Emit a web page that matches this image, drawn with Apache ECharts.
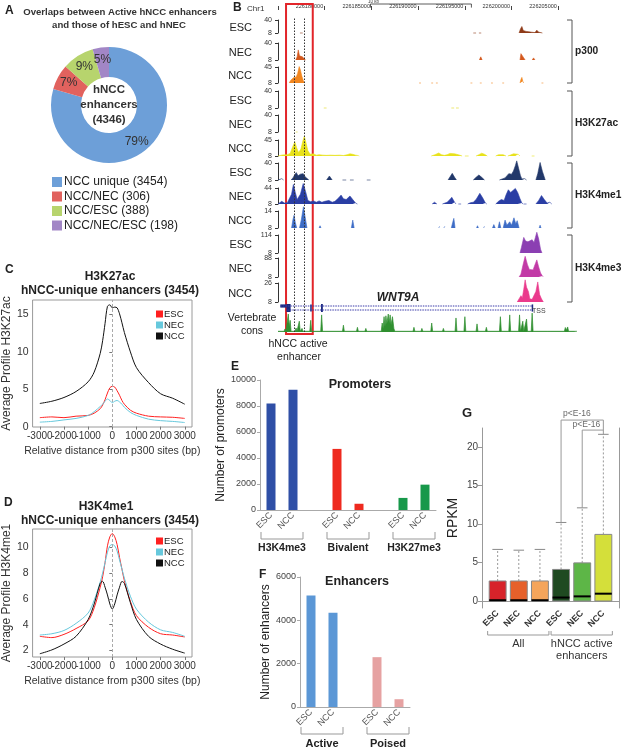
<!DOCTYPE html>
<html>
<head>
<meta charset="utf-8">
<script src="https://cdn.jsdelivr.net/npm/echarts@6/dist/echarts.min.js"></script>
<style>
html,body{margin:0;padding:0;background:#fff;width:624px;height:751px;overflow:hidden;}
.pane{position:absolute;left:0;top:0;width:624px;height:751px;}
</style>
</head>
<body>
<div id="pA" class="pane"></div>
<div id="pB" class="pane"></div>
<div id="pC" class="pane"></div>
<div id="pD" class="pane"></div>
<div id="pE" class="pane"></div>
<div id="pF" class="pane"></div>
<div id="pG" class="pane"></div>
<script>
// ---------------- DATA ----------------
// Panel A
const overlapNames = ['NCC unique', 'NCC/NEC', 'NCC/ESC', 'NCC/NEC/ESC'];
const overlapCounts = [3454, 306, 388, 198];

// Panel B (positions in kb from chr1:226,175,000)
const trackNames = ['ESC','NEC','NCC','ESC','NEC','NCC','ESC','NEC','NCC','ESC','NEC','NCC'];
const trackGroups = [['p300',0,2],['H3K27ac',3,5],['H3K4me1',6,8],['H3K4me3',9,11]];
const trackMax = [40,40,45,40,40,45,40,44,14,114,88,26];
const p300ESC = [
  [[2.35,8],[2.5,10],[2.65,8]],
  [[20.9,8],[21.05,12],[21.2,8]],
  [[21.5,8],[21.62,11],[21.75,8]],
  [[25.8,8],[25.95,18],[26.1,24],[26.25,14],[26.4,17],[26.55,12],[26.7,16],[26.85,11],[27.0,15],[27.15,10],[27.3,14],[27.5,9],[27.7,15],[27.9,10],[28.1,13],[28.3,8]]
];
const p300NEC = [
  [[1.9,8],[2.05,14],[2.17,27],[2.3,16],[2.45,13],[2.6,14],[2.8,12],[2.95,8]],
  [[21.55,8],[21.7,14],[21.85,8]],
  [[25.9,8],[26.0,20],[26.15,22],[26.3,12],[26.45,8]],
  [[27.2,8],[27.35,12],[27.5,8]]
];
const p300NCC = [
  [[1.2,8],[1.35,14],[1.5,12],[1.65,20],[1.8,17],[1.95,22],[2.1,30],[2.27,46],[2.4,38],[2.55,24],[2.7,14],[2.85,8]],
  [[15.1,8],[15.2,10],[15.3,8]],
  [[16.4,8],[16.5,11],[16.6,8]],
  [[16.9,8],[17.0,10],[17.1,8]],
  [[20.6,8],[20.7,10],[20.8,8]],
  [[21.6,8],[21.7,11],[21.8,8]],
  [[22.8,8],[22.9,10],[23.0,8]],
  [[24.0,8],[24.1,11],[24.2,8]],
  [[25.9,8],[26.0,16],[26.1,21],[26.2,12],[26.3,8]],
  [[28.2,8],[28.3,10],[28.4,8]]
];
const k27acESC = [
  [[4.9,8],[5.05,9.5],[5.2,8]],
  [[18.55,8],[18.7,9.5],[18.85,8]],
  [[19.05,8],[19.2,9.5],[19.35,8]]
];
const k27acNEC = [
  [[1.9,8],[2.0,9.5],[2.1,8]]
];
const k27acNCC = [
  [[0.0,8],[0.1,10],[0.5,10.5],[1.0,11],[1.3,14],[1.55,28],[1.8,41],[2.0,27],[2.2,16],[2.45,24],[2.65,42],[2.82,54],[3.0,38],[3.2,20],[3.45,12],[3.8,13],[4.1,10],[4.4,11],[4.8,10],[5.2,9.5],[5.6,10],[6.1,9.5],[6.6,10],[7.0,9],[7.4,11],[7.7,13],[8.0,12],[8.3,10],[8.6,9],[8.7,8]],
  [[16.4,8],[16.8,11],[17.2,15],[17.5,11],[17.8,9.5],[18.1,11],[18.4,14],[18.6,15.5],[18.9,13],[19.3,11],[19.7,8]],
  [[20.0,8],[20.2,9.5],[20.4,8]],
  [[21.2,8],[21.5,11],[21.8,14.5],[22.1,12],[22.4,8]],
  [[23.3,8],[23.6,11],[23.8,14.5],[24.1,11],[24.4,8]],
  [[24.6,8],[24.9,10.5],[25.2,13],[25.4,15],[25.7,12],[25.9,8]],
  [[27.15,8],[27.3,10],[27.45,8]]
];
const k4me1ESC = [
  [[0.0,8],[0.1,11],[0.4,10.5],[0.6,8]],
  [[1.4,8],[1.6,12],[1.8,18],[1.95,22],[2.15,16],[2.4,19],[2.55,16],[2.7,20],[2.9,14],[3.1,11],[3.3,8]],
  [[5.2,8],[5.5,15.5],[5.8,8]],
  [[6.9,8],[7.1,10],[7.3,8]],
  [[7.7,8],[7.9,10],[8.1,8]],
  [[9.5,8],[9.7,10],[9.9,8]],
  [[18.2,8],[18.45,15],[18.65,20.5],[18.9,13],[19.1,8]],
  [[20.9,8],[21.2,13],[21.5,17.5],[21.8,13],[22.1,8]],
  [[23.7,8],[24.0,10],[24.3,12],[24.7,20],[25.0,19],[25.2,25],[25.4,35],[25.55,44],[25.75,30],[25.95,16],[26.1,10],[26.4,10.5],[26.6,8]],
  [[27.6,8],[27.8,20],[28.05,41],[28.3,24],[28.6,8]]
];
const k4me1NEC = [
  [[0.0,8],[0.1,12],[0.4,14],[0.7,10],[1.0,11],[1.2,14],[1.45,30],[1.65,52],[1.85,34],[2.05,18],[2.2,16],[2.4,30],[2.7,54],[2.95,36],[3.2,16],[3.5,13],[3.8,15],[4.1,12],[4.4,15],[4.7,12],[5.0,14],[5.45,16],[5.8,12],[6.1,14],[6.5,22],[6.75,28],[7.0,20],[7.3,18],[7.7,26],[8.0,18],[8.3,10],[8.5,8]],
  [[16.5,8],[16.75,12],[17.0,8]],
  [[17.6,8],[17.8,10],[18.1,12],[18.4,18],[18.6,23],[18.9,12],[19.05,8]],
  [[19.3,8],[19.45,10],[19.6,8]],
  [[20.3,8],[20.6,11],[20.9,12],[21.2,18],[21.6,32],[21.9,22],[22.2,10],[22.35,8]],
  [[23.3,8],[23.6,14],[23.9,18],[24.2,16],[24.4,28],[24.65,40],[24.9,34],[25.1,38],[25.4,43],[25.65,34],[25.9,20],[26.1,10],[26.25,8]],
  [[26.3,8],[26.45,10],[26.6,8]],
  [[27.6,8],[27.9,16],[28.2,27],[28.5,18],[28.8,10],[29.1,12],[29.3,8]]
];
const k4me1NCC = [
  [[1.45,8],[1.6,11],[1.72,12.5],[1.85,10],[2.0,8]],
  [[2.3,8],[2.5,11],[2.72,15.5],[2.9,12],[3.1,8]],
  [[4.4,8],[4.5,8.8],[4.6,8]],
  [[7.85,8],[8.0,10.8],[8.15,8]],
  [[17.2,8],[17.3,8.6],[17.4,8]],
  [[17.75,8],[17.85,8.6],[17.95,8]],
  [[18.55,8],[18.7,10],[18.82,11.4],[18.95,8]],
  [[21.25,8],[21.35,8.8],[21.45,8]],
  [[22.0,8],[22.1,8.6],[22.2,8]],
  [[22.95,8],[23.1,9.2],[23.25,8]],
  [[23.55,8],[23.7,10.2],[23.85,8]],
  [[24.1,8],[24.3,10.8],[24.5,9],[24.8,10.2],[25.0,9],[25.25,11.6],[25.45,9.5],[25.6,10.6],[25.8,8]],
  [[27.95,8],[28.05,9],[28.15,8]]
];
const k4me3ESC = [
  [[25.9,8],[26.05,40],[26.3,100],[26.5,78],[26.75,74],[26.95,68],[27.2,86],[27.4,70],[27.55,100],[27.7,130],[27.9,90],[28.1,30],[28.25,8]]
];
const k4me3NEC = [
  [[25.8,8],[26.0,20],[26.2,55],[26.45,95],[26.7,60],[26.9,40],[27.1,46],[27.3,38],[27.5,60],[27.7,80],[27.9,50],[28.1,25],[28.3,12],[28.4,8]]
];
const k4me3NCC = [
  [[25.6,8],[25.8,9],[26.0,14],[26.15,12],[26.3,20],[26.45,29],[26.6,22],[26.8,18],[26.95,11],[27.2,10.5],[27.4,9],[27.6,18],[27.8,27],[28.0,15],[28.2,11],[28.4,8]]
];
const consTrack = [
  [0,0.04],[0.65,0.04],[0.75,0.17],[0.85,0.04],[1.0,0.04],[1.1,1.0],[1.2,0.3],[1.3,0.65],[1.4,0.04],[1.83,0.04],[1.93,0.22],[2.03,0.04],[2.18,0.04],[2.28,0.6],[2.38,0.04],[2.47,0.04],[2.57,0.2],[2.67,0.04],
  [3.4,0.04],[3.5,0.65],[3.6,0.04],[4.57,0.04],[4.67,0.95],[4.77,0.04],[6.9,0.04],[7.0,0.38],[7.1,0.04],[8.4,0.04],[8.5,0.26],[8.6,0.04],[9.3,0.04],[9.4,0.2],[9.5,0.04],
  [11.05,0.04],[11.15,0.5],[11.25,0.2],[11.35,0.85],[11.45,0.3],[11.55,0.9],[11.65,0.45],[11.8,1.0],[11.9,0.5],[12.0,0.95],[12.1,0.4],[12.25,0.85],[12.4,0.2],[12.5,0.04],
  [14.45,0.04],[14.55,0.26],[14.65,0.04],[15.3,0.04],[15.4,0.2],[15.5,0.04],[16.35,0.04],[16.45,0.5],[16.55,0.04],[17.6,0.04],[17.7,0.2],[17.8,0.04],
  [18.95,0.04],[19.05,0.78],[19.15,0.04],[19.9,0.04],[20.0,0.85],[20.1,0.04],[21.2,0.04],[21.3,0.45],[21.4,0.04],[22.2,0.04],[22.3,0.26],[22.4,0.04],
  [23.7,0.04],[23.8,0.85],[23.9,0.04],[24.7,0.04],[24.8,0.95],[24.9,0.04],[25.75,0.04],[25.85,0.95],[25.95,0.04],[26.1,0.04],[26.2,0.6],[26.3,0.04],[26.5,0.04],[26.6,0.72],[26.7,0.04],
  [27.1,0.04],[27.2,1.05],[27.3,0.04],[28.85,0.04],[28.95,0.15],[29.05,0.04],[29.2,0.04],[29.3,0.15],[29.4,0.04],[30.65,0.04],[30.75,0.25],[30.85,0.1],[31.0,0.28],[31.1,0.04],[31.7,0.04],[31.8,0.12],[31.9,0.04],[32,0.04]
];
const geneTranscripts = [[0.25, 27.2, 2], [1.0, 27.2, 1]];
const geneExons = [[0.25,0.9,1.6,2.4],[0.9,1.35,0.5,2.5],[3.45,3.6,0.6,2.4],[4.6,4.8,0.5,2.5],[27.15,27.25,0.6,2.4]];
const enhancerRegion = [0.86, 3.72];
const p300Summits = [1.71, 2.78];
const rulerOriginBp = 226175000;
const scaleBarKb = [9.9, 20.7];

// Panels C & D
const profilePositions = [-3000,-2500,-2000,-1500,-1000,-750,-500,-400,-300,-200,-100,0,100,200,300,400,500,750,1000,1500,2000,2500,3000];
const k27acProfileESC = [1.2,1.3,1.2,1.4,1.5,1.8,2.4,2.9,3.6,4.5,5.2,5.4,5.3,4.8,4.2,3.5,3.0,2.2,1.8,1.4,1.3,1.25,1.1];
const k27acProfileNEC = [0.6,0.7,0.9,1.1,1.5,2.0,2.7,3.0,3.4,3.7,3.5,3.2,3.4,3.5,3.3,3.0,2.6,1.9,1.5,1.0,0.8,0.7,0.55];
const k27acProfileNCC = [3.1,3.4,3.9,4.7,6.0,7.3,9.8,11.5,13.8,16.1,16.3,15.9,16.0,15.9,15.1,13.9,12.6,10.0,7.9,5.9,4.4,3.8,3.0];
const k4me1ProfileESC = [3.1,3.0,3.25,3.7,4.3,5.3,6.9,7.7,8.8,10.1,10.8,11.05,10.8,10.2,9.2,8.3,7.4,5.8,4.7,3.8,3.3,3.2,3.05];
const k4me1ProfileNEC = [3.2,3.3,3.55,4.1,4.9,5.9,7.3,8.0,8.8,9.6,10.1,10.2,10.1,9.7,9.0,8.3,7.6,6.2,5.2,4.2,3.6,3.4,3.1];
const k4me1ProfileNCC = [1.75,2.05,2.5,3.1,4.4,5.6,7.2,7.35,6.9,6.3,5.6,5.2,5.6,6.3,6.9,7.35,7.2,5.7,4.4,3.1,2.5,2.1,1.8];
const profileTicks = [-3000,-2000,-1000,0,1000,2000,3000];

// Panel E
const promoterCats = ['ESC','NCC','','ESC','NCC','','ESC','NCC'];
const promoterCounts = [8200, 9250, null, 4700, 480, null, 930, 1950];
const promoterGroups = [['H3K4me3',0,1],['Bivalent',3,4],['H3K27me3',6,7]];

// Panel F
const enhancerCats = ['ESC','NCC','','ESC','NCC'];
const enhancerCounts = [5150, 4346, null, 2300, 360];
const enhancerGroups = [['Active',0,1],['Poised',3,4]];

// Panel G
const rpkmCats = ['ESC','NEC','NCC','ESC','NEC','NCC'];
const rpkmQ1 = [0,0,0,0,0,0];
const rpkmMedian = [0.1,0.1,0.1,0.45,0.6,0.95];
const rpkmQ3 = [2.6,2.6,2.6,4.1,4.95,8.65];
const rpkmUpper = [6.7,6.6,6.7,10.2,12.1,21.65];
const rpkmGroups = [['All',1,3],['hNCC active\nenhancers',4,6]];
const rpkmBracketY = [23.5, 22.2];
const rpkmPLabel = 'p<E-16';

// ---------------- STYLE ----------------
const FONT = '"Liberation Sans", Arial, Helvetica, sans-serif';
const overlapColors = ['#6d9fd8','#e1625e','#b7d46d','#a286c6'];
const trackColors = ['#8e3a18','#d4581c','#f2861e','#e0d81a','#e0d81a','#e8e21a','#22386a','#2a3ea4','#3d6cc6','#8b3fb2','#c23aa6','#ea3a8c'];
const profileColors = ['#ff2020','#66c8dc','#111111'];
const promoterColors = ['#2f4fa6','#2f4fa6',null,'#ee2a1f','#ee2a1f',null,'#17984a','#17984a'];
const enhancerColors = ['#5b97d6','#5b97d6',null,'#e6a2a2','#e6a2a2'];
const rpkmColors = ['#d7232a','#e6602a','#f5a55b','#1f4a21','#5db647','#d4df3a'];

function mk(id){ return echarts.init(document.getElementById(id), null, {renderer:'canvas', width:624, height:751}); }
function T(x, y, text, o){
  o = o || {};
  const font = (o.italic ? 'italic ' : '') + (o.weight || 'normal') + ' ' + (o.size || 11) + 'px ' + FONT;
  const st = {text:text, fill:o.color || '#222', font:font, align:o.align || 'left', textAlign:o.align || 'left',
              verticalAlign:o.va || 'middle', textVerticalAlign:o.va || 'middle'};
  if (o.lh) st.lineHeight = o.lh;
  return {type:'text', x:x, y:y, silent:true, z:100, style:st};
}
function P(points, color, w){ return {type:'polyline', silent:true, z:90, shape:{points:points}, style:{stroke:color || '#999', lineWidth:w || 1, fill:null}}; }
function joinPeaks(peaks){
  const out = [];
  peaks.forEach((p, i) => { if (i) out.push([p[0][0], null]); p.forEach(pt => out.push(pt)); });
  return out;
}
const plain = v => String(v);

// ---------------- PANEL A ----------------
const chA = mk('pA');
const totalEnh = overlapCounts.reduce((a, b) => a + b, 0);
chA.setOption({
  animation:false,
  graphic:[
    T(5, 11, 'A', {weight:'bold', size:12}),
    T(120, 12, 'Overlaps between Active hNCC enhancers', {weight:'bold', size:9.6, align:'center', color:'#333'}),
    T(119, 25, 'and those of hESC and hNEC', {weight:'bold', size:9.6, align:'center', color:'#333'}),
    T(109, 105, 'hNCC\nenhancers\n(' + totalEnh + ')', {weight:'bold', size:11.5, align:'center', lh:15, color:'#333'})
  ],
  legend:{orient:'vertical', left:52, top:176, itemWidth:10, itemHeight:10, itemGap:2.5, icon:'rect', padding:0,
    textStyle:{fontSize:12, color:'#222', fontFamily:FONT, padding:[0,0,0,-3]},
    formatter:n => n + ' (' + overlapCounts[overlapNames.indexOf(n)] + ')'},
  series:[{type:'pie', center:[109,105], radius:[28,58], startAngle:90, clockwise:true, silent:true,
    label:{show:true, position:'inside', formatter:p => Math.round(p.percent) + '%', fontSize:12, color:'#333', fontFamily:FONT},
    labelLine:{show:false},
    data:overlapNames.map((n, i) => ({name:n, value:overlapCounts[i], itemStyle:{color:overlapColors[i]}}))}]
});

// ---------------- PANEL B ----------------
const chB = mk('pB');
const trackData = [p300ESC,p300NEC,p300NCC,k27acESC,k27acNEC,k27acNCC,k4me1ESC,k4me1NEC,k4me1NCC,k4me3ESC,k4me3NEC,k4me3NCC];
const trackTopY = [20,43,67,91,115,140,163,188,211,235,258,283];
const trackBaseY = [33,60,83,108,132,156,180,204,228,253,277,302];
const TL = 278, TW = 299;
const bGrids = [], bX = [], bY = [], bS = [];
function addGrid(top, height){ bGrids.push({left:TL, width:TW, top:top, height:height}); return bGrids.length - 1; }
function hiddenX(gi){ return {gridIndex:gi, type:'value', min:0, max:32, show:false}; }
trackData.forEach((peaks, i) => {
  const gi = addGrid(trackTopY[i], trackBaseY[i] - trackTopY[i]);
  bX.push(hiddenX(gi));
  bY.push({gridIndex:gi, type:'value', min:8, max:trackMax[i], offset:4,
    axisLine:{show:true, lineStyle:{color:'#333', width:1}},
    axisTick:{show:true, length:3, customValues:[8, trackMax[i]], lineStyle:{color:'#333'}},
    axisLabel:{show:true, customValues:[8, trackMax[i]], fontSize:7, color:'#333', margin:2, fontFamily:FONT},
    splitLine:{show:false}});
  bS.push({type:'line', xAxisIndex:gi, yAxisIndex:gi, data:joinPeaks(peaks), symbol:'none', clip:false, silent:true,
    connectNulls:false, lineStyle:{color:trackColors[i], width:0.6}, areaStyle:{color:trackColors[i], opacity:1, origin:'start'}});
});
// ruler
let gi = addGrid(4, 6);
bX.push({gridIndex:gi, type:'value', min:0, max:32, interval:5, position:'bottom',
  axisLine:{show:false}, axisTick:{show:true, inside:true, length:4, lineStyle:{color:'#444'}},
  axisLabel:{formatter:v => v === 0 ? '' : String(rulerOriginBp + v * 1000), fontSize:5.5, color:'#333', align:'right',
    verticalAlign:'middle', margin:-4, padding:[0,1.5,0,0], fontFamily:FONT}, splitLine:{show:false}});
bY.push({gridIndex:gi, type:'value', min:0, max:1, show:false});
bS.push({type:'line', xAxisIndex:gi, yAxisIndex:gi, symbol:'none', clip:false, silent:true,
  data:[[scaleBarKb[0],0.4],[scaleBarKb[0],1],[scaleBarKb[1],1],[scaleBarKb[1],0.4]], lineStyle:{color:'#333', width:0.8}});
// gene
gi = addGrid(302, 12);
bX.push(hiddenX(gi));
bY.push({gridIndex:gi, type:'value', min:0, max:3, show:false});
geneTranscripts.forEach(tr => {
  bS.push({type:'line', xAxisIndex:gi, yAxisIndex:gi, symbol:'none', silent:true, data:[[tr[0], tr[2]], [tr[1], tr[2]]],
    lineStyle:{color:'#3a3aa8', width:1, type:[1.5,1]}});
});
bS.push({type:'custom', xAxisIndex:gi, yAxisIndex:gi, silent:true, data:geneExons, encode:{x:[0,1], y:[2,3]},
  renderItem:(params, api) => {
    const s = api.coord([api.value(0), api.value(2)]);
    const e = api.coord([api.value(1), api.value(3)]);
    return {type:'rect', shape:{x:s[0], y:e[1], width:Math.max(e[0] - s[0], 1.5), height:s[1] - e[1]}, style:{fill:'#1b2a80'}};
  }});
// conservation
gi = addGrid(314, 18);
bX.push(hiddenX(gi));
bY.push({gridIndex:gi, type:'value', min:0, max:1, show:false});
bS.push({type:'line', xAxisIndex:gi, yAxisIndex:gi, data:consTrack, symbol:'none', clip:false, silent:true,
  lineStyle:{color:'#2f8f2f', width:0.7}, areaStyle:{color:'#2f8f2f', opacity:1, origin:'start'}});
// overlay: enhancer box
gi = addGrid(4, 330);
bX.push(hiddenX(gi));
bY.push({gridIndex:gi, type:'value', min:0, max:1, show:false});
bS.push({type:'line', xAxisIndex:gi, yAxisIndex:gi, data:[[0,-1]], symbol:'none', silent:true, lineStyle:{width:0},
  markArea:{silent:true, itemStyle:{color:'rgba(0,0,0,0)', borderColor:'#e2252a', borderWidth:2},
    data:[[{xAxis:enhancerRegion[0]}, {xAxis:enhancerRegion[1]}]]}});
// overlay: summit lines
gi = addGrid(18, 314);
bX.push(hiddenX(gi));
bY.push({gridIndex:gi, type:'value', min:0, max:1, show:false});
bS.push({type:'line', xAxisIndex:gi, yAxisIndex:gi, data:[[0,-1]], symbol:'none', silent:true, lineStyle:{width:0},
  markLine:{silent:true, symbol:['none','none'], label:{show:false}, lineStyle:{color:'#333', type:[1.5,1.5], width:1},
    data:p300Summits.map(x => ({xAxis:x}))}});

const bGraphics = [
  T(233, 8, 'B', {weight:'bold', size:12}),
  T(247, 9, 'Chr1', {size:8, color:'#333'}),
  T(368, 2, '10 kb', {size:4.5, color:'#444'}),
  T(398, 298, 'WNT9A', {weight:'bold', italic:true, size:12, align:'center'}),
  T(532, 311, 'TSS', {size:7, color:'#444'}),
  T(252, 318, 'Vertebrate', {size:10.5, align:'center'}),
  T(252, 331, 'cons', {size:10.5, align:'center'}),
  T(298, 344, 'hNCC active', {size:10.5, align:'center'}),
  T(299, 357, 'enhancer', {size:10.5, align:'center'})
];
trackNames.forEach((n, i) => bGraphics.push(T(252, (trackTopY[i] + trackBaseY[i]) / 2 + 1, n, {size:11, align:'right'})));
trackGroups.forEach(g => {
  const top = trackTopY[g[1]], bot = trackBaseY[g[2]];
  bGraphics.push(P([[567, top], [572, top], [572, bot], [567, bot]], '#555', 1));
  bGraphics.push(T(575, (top + bot) / 2, g[0], {weight:'bold', size:10.2}));
});
chB.setOption({animation:false, grid:bGrids, xAxis:bX, yAxis:bY, series:bS, graphic:bGraphics});

// ---------------- PANELS C & D ----------------
function profileChart(id, top, height, yMin, yMax, yTicks, vals, yName, legendTop, titles){
  const ch = mk(id);
  const names = ['ESC','NEC','NCC'];
  const oddTicks = profileTicks.filter((v, i) => i % 2 === 0);
  const evenTicks = profileTicks.filter((v, i) => i % 2 === 1);
  const xLab = vals => ({customValues:vals, formatter:plain, showMinLabel:true, showMaxLabel:true, hideOverlap:false,
    fontSize:10, color:'#333', margin:4, fontFamily:FONT});
  ch.setOption({
    animation:false,
    graphic:titles,
    grid:{left:30, top:top, width:162, height:height, show:true, borderColor:'#9a9a9a', borderWidth:1, backgroundColor:'transparent'},
    legend:{data:names, orient:'vertical', left:156, top:legendTop, itemWidth:7, itemHeight:7, itemGap:1, icon:'rect', padding:0,
      textStyle:{fontSize:9.5, color:'#222', fontFamily:FONT, padding:[0,0,0,-4]}},
    xAxis:[
      {type:'value', min:-3300, max:3300, position:'bottom',
        axisLine:{show:false}, splitLine:{show:false},
        axisTick:{show:true, customValues:profileTicks, length:3, lineStyle:{color:'#777'}},
        axisLabel:xLab(oddTicks),
        name:'Relative distance from p300 sites (bp)', nameLocation:'middle', nameGap:19,
        nameTextStyle:{fontSize:10.5, color:'#333', fontFamily:FONT}},
      {type:'value', min:-3300, max:3300, position:'bottom', offset:0,
        axisLine:{show:false}, splitLine:{show:false}, axisTick:{show:false},
        axisLabel:xLab(evenTicks)}
    ],
    yAxis:{type:'value', min:yMin, max:yMax,
      axisLine:{show:false}, splitLine:{show:false},
      axisTick:{show:true, customValues:yTicks, length:3, lineStyle:{color:'#777'}},
      axisLabel:{customValues:yTicks, formatter:plain, showMinLabel:true, showMaxLabel:true, fontSize:10.5, color:'#333', margin:4, fontFamily:FONT},
      name:yName, nameLocation:'middle', nameGap:18, nameRotate:90,
      nameTextStyle:{fontSize:12, color:'#333', fontFamily:FONT}},
    series:names.map((n, i) => ({
      type:'line', name:n, silent:true, symbol:'none', smooth:0.3, xAxisIndex:0,
      data:profilePositions.map((x, j) => [x, vals[i][j]]),
      lineStyle:{color:profileColors[i], width:1}, itemStyle:{color:profileColors[i]},
      markLine: i === 2 ? {silent:true, symbol:['none','none'], label:{show:false},
        lineStyle:{color:'#aaa', type:[3,2], width:1}, data:[{xAxis:0}]} : undefined
    }))
  });
  return ch;
}
profileChart('pC', 300, 127, -0.05, 16.95, [0,5,10,15],
  [k27acProfileESC, k27acProfileNEC, k27acProfileNCC], 'Average Profile H3K27ac', 309,
  [T(5, 270, 'C', {weight:'bold', size:12}),
   T(110, 277, 'H3K27ac', {weight:'bold', size:12, align:'center'}),
   T(110, 291, 'hNCC-unique enhancers (3454)', {weight:'bold', size:12, align:'center'})]);
profileChart('pD', 529, 128, 1.5, 11.4, [2,4,6,8,10],
  [k4me1ProfileESC, k4me1ProfileNEC, k4me1ProfileNCC], 'Average Profile H3K4me1', 536,
  [T(4, 503, 'D', {weight:'bold', size:12}),
   T(106, 507, 'H3K4me1', {weight:'bold', size:12, align:'center'}),
   T(110, 521, 'hNCC-unique enhancers (3454)', {weight:'bold', size:12, align:'center'})]);

// ---------------- PANELS E & F ----------------
function barChart(id, grid, cats, counts, colors, yMax, yName, nameGap, groups, brTop, brBot, labY, labSize, titles){
  const ch = mk(id);
  ch.setOption({
    animation:false,
    graphic:titles,
    grid:grid,
    xAxis:{type:'category', data:cats.map((c, i) => 'c' + i),
      axisLine:{show:true, lineStyle:{color:'#aaa'}}, axisTick:{show:false},
      axisLabel:{interval:0, rotate:45, formatter:(v, i) => cats[i], fontSize:9, color:'#555', margin:4, fontFamily:FONT}},
    yAxis:{type:'value', min:0, max:yMax, interval:2000,
      axisLine:{show:true, lineStyle:{color:'#aaa'}}, axisTick:{show:true, length:3, lineStyle:{color:'#aaa'}},
      axisLabel:{formatter:plain, fontSize:9, color:'#444', margin:4, fontFamily:FONT}, splitLine:{show:false},
      name:yName, nameLocation:'middle', nameGap:nameGap, nameTextStyle:{fontSize:12, color:'#222', fontFamily:FONT}},
    series:[{type:'bar', silent:true, barWidth:9,
      data:counts.map((v, i) => ({value:v, itemStyle:{color:colors[i] || '#fff'}}))}]
  });
  const extra = [];
  groups.forEach(g => {
    const x1 = ch.convertToPixel({xAxisIndex:0}, g[1]) - 10;
    const x2 = ch.convertToPixel({xAxisIndex:0}, g[2]) + 10;
    extra.push(P([[x1, brTop], [x1, brBot], [x2, brBot], [x2, brTop]], '#999', 1));
    extra.push(T((x1 + x2) / 2, labY, g[0], {weight:'bold', size:labSize, align:'center'}));
  });
  ch.setOption({graphic:titles.concat(extra)});
  return ch;
}
barChart('pE', {left:260, top:380, width:176, height:130}, promoterCats, promoterCounts, promoterColors, 10000,
  'Number of promoters', 31, promoterGroups, 532, 539, 548, 10.5,
  [T(231, 367, 'E', {weight:'bold', size:12}),
   T(360, 385, 'Promoters', {weight:'bold', size:12.5, align:'center'})]);
barChart('pF', {left:300, top:577, width:110, height:130}, enhancerCats, enhancerCounts, enhancerColors, 6000,
  'Number of enhancers', 28, enhancerGroups, 727, 734, 744, 11,
  [T(259, 575, 'F', {weight:'bold', size:12}),
   T(357, 582, 'Enhancers', {weight:'bold', size:12.5, align:'center'})]);

// ---------------- PANEL G ----------------
const chG = mk('pG');
const gTicks = [0,5,10,15,20];
const gBoxData = rpkmCats.map((c, i) => [i + 1, rpkmQ1[i], rpkmMedian[i], rpkmQ3[i], rpkmUpper[i]]);
chG.setOption({
  animation:false,
  grid:{left:482, top:428, width:137, height:180},
  xAxis:{type:'value', min:0.26, max:6.74,
    axisLine:{show:true, lineStyle:{color:'#999'}}, axisTick:{show:false}, splitLine:{show:false},
    axisLabel:{customValues:[1,2,3,4,5,6], formatter:v => rpkmCats[Math.round(v) - 1], rotate:45, fontSize:9,
      fontWeight:'bold', color:'#333', margin:4, fontFamily:FONT}},
  yAxis:[
    {type:'value', min:-0.91, max:22.47,
      axisLine:{show:true, lineStyle:{color:'#999'}}, splitLine:{show:false},
      axisTick:{show:true, customValues:gTicks, length:4, lineStyle:{color:'#999'}},
      axisLabel:{customValues:gTicks, formatter:plain, fontSize:10, color:'#444', margin:4, fontFamily:FONT},
      name:'RPKM', nameLocation:'middle', nameGap:22, nameTextStyle:{fontSize:14, color:'#222', fontFamily:FONT}},
    {type:'value', min:-0.91, max:22.47, position:'right',
      axisLine:{show:true, lineStyle:{color:'#999'}}, axisTick:{show:false}, axisLabel:{show:false}, splitLine:{show:false}}
  ],
  series:[
    {type:'custom', silent:true, data:gBoxData, encode:{x:0, y:[1,2,3,4]},
      renderItem:(params, api) => {
        const x = api.value(0);
        const pQ1 = api.coord([x, api.value(1)]);
        const pMed = api.coord([x, api.value(2)]);
        const pQ3 = api.coord([x, api.value(3)]);
        const pHi = api.coord([x, api.value(4)]);
        const w = api.size([0.8, 0])[0], cw = api.size([0.5, 0])[0];
        return {type:'group', children:[
          {type:'line', shape:{x1:pQ1[0], y1:pQ3[1], x2:pQ1[0], y2:pHi[1]}, style:{stroke:'#999', lineWidth:1, lineDash:[2,2]}},
          {type:'line', shape:{x1:pQ1[0] - cw / 2, y1:pHi[1], x2:pQ1[0] + cw / 2, y2:pHi[1]}, style:{stroke:'#888', lineWidth:1}},
          {type:'rect', shape:{x:pQ1[0] - w / 2, y:pQ3[1], width:w, height:pQ1[1] - pQ3[1]}, style:{fill:rpkmColors[params.dataIndex], stroke:'#888', lineWidth:1}},
          {type:'line', shape:{x1:pQ1[0] - w / 2, y1:pMed[1], x2:pQ1[0] + w / 2, y2:pMed[1]}, style:{stroke:'#000', lineWidth:2}}
        ]};
      }},
    {type:'line', silent:true, symbol:'none', clip:false, lineStyle:{color:'#999', width:1},
      data:[[4, rpkmUpper[3]], [4, rpkmBracketY[0]], [6, rpkmBracketY[0]], [6, rpkmUpper[5]]]},
    {type:'line', silent:true, symbol:'none', clip:false, lineStyle:{color:'#999', width:1},
      data:[[5, rpkmUpper[4]], [5, rpkmBracketY[1]], [6, rpkmBracketY[1]]]},
    {type:'scatter', silent:true, symbolSize:0, clip:false,
      data:[[4.75, rpkmBracketY[0] + 0.85], [5.2, rpkmBracketY[1] + 0.75]],
      label:{show:true, position:'inside', formatter:() => rpkmPLabel, fontSize:8.5, color:'#444', fontFamily:FONT}}
  ]
});
const gExtra = [T(462, 413, 'G', {weight:'bold', size:13})];
rpkmGroups.forEach(g => {
  const x1 = chG.convertToPixel({xAxisIndex:0}, g[1]) - 10;
  const x2 = chG.convertToPixel({xAxisIndex:0}, g[2]) + 9;
  gExtra.push(P([[x1, 631], [x1, 635], [x2, 635], [x2, 631]], '#999', 1));
  gExtra.push(T((x1 + x2) / 2, 638, g[0], {size:11, align:'center', va:'top', lh:12, color:'#333'}));
});
chG.setOption({graphic:gExtra});
</script>
</body>
</html>
